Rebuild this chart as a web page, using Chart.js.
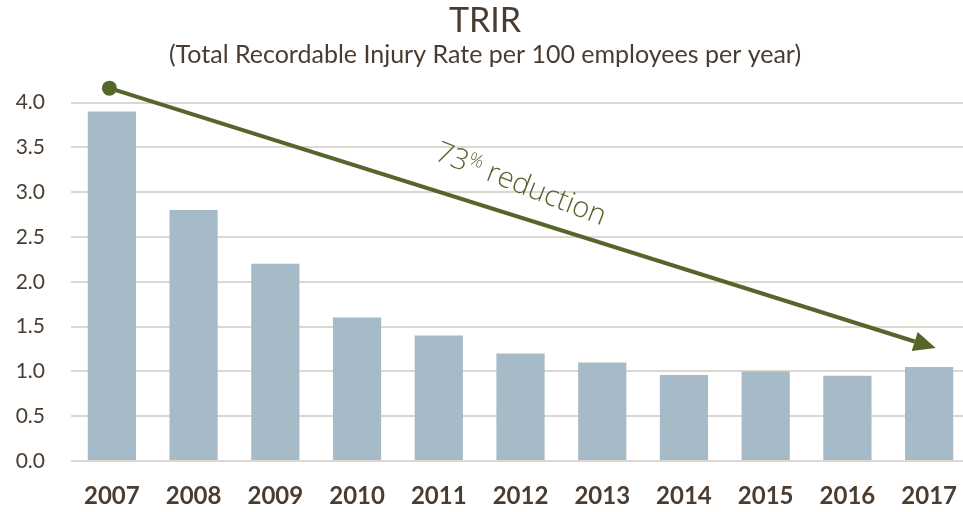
<!DOCTYPE html>
<html>
<head>
<meta charset="utf-8">
<script src="https://cdn.jsdelivr.net/npm/chart.js@4"></script>
<style>
html,body{margin:0;padding:0;background:#fff;overflow:hidden}
#wrap{width:970px;height:512px;position:relative}
</style>
</head>
<body>
<div id="wrap"><canvas id="c"></canvas></div>
<script>
// TRIR chart
const years = ["2007","2008","2009","2010","2011","2012","2013","2014","2015","2016","2017"];
const trir = [3.9, 2.8, 2.2, 1.6, 1.4, 1.2, 1.1, 0.96, 1.0, 0.95, 1.05];
const yTicks = [0, 0.5, 1, 1.5, 2, 2.5, 3, 3.5, 4];
// trend arrow, in data units: [category index, value]
const trendStart = [-0.03, 4.16];
const trendEnd = [10.08, 1.26];
const trendLabel = ["73", "%", " reduction"];

const TXT = "#4a3c30", GRID = "#dcd7d2", BAR = "#a6bbc7", OLIVE = "#56652a";

const arrowPlugin = {
  id: "arrow",
  afterDatasetsDraw(chart){
    const {ctx, scales:{x, y}} = chart;
    const step = x.getPixelForValue(1) - x.getPixelForValue(0);
    const px = v => x.getPixelForValue(0) + v*step;
    const x1 = px(trendStart[0]), y1 = y.getPixelForValue(trendStart[1]);
    const x2 = px(trendEnd[0]), y2 = y.getPixelForValue(trendEnd[1]);
    const ang = Math.atan2(y2-y1, x2-x1);
    const head = 22, hw = 10;
    ctx.save();
    ctx.strokeStyle = OLIVE; ctx.fillStyle = OLIVE; ctx.lineWidth = 4;
    ctx.beginPath();
    ctx.moveTo(x1, y1);
    ctx.lineTo(x2 - Math.cos(ang)*head, y2 - Math.sin(ang)*head);
    ctx.stroke();
    ctx.beginPath();
    ctx.arc(x1, y1, 7.5, 0, Math.PI*2); ctx.fill();
    ctx.beginPath();
    ctx.moveTo(x2, y2);
    ctx.lineTo(x2 - Math.cos(ang)*head - Math.sin(ang)*hw, y2 - Math.sin(ang)*head + Math.cos(ang)*hw);
    ctx.lineTo(x2 - Math.cos(ang)*head + Math.sin(ang)*hw, y2 - Math.sin(ang)*head - Math.cos(ang)*hw);
    ctx.closePath(); ctx.fill();
    // label along the arrow
    const mx = x1 + (x2-x1)*0.5, my = y1 + (y2-y1)*0.5;
    ctx.translate(mx, my);
    ctx.rotate(ang + 0.07);
    ctx.translate(-14, -22);
    ctx.textBaseline = "alphabetic";
    const big = "300 29px 'Open Sans'", small = "300 18px 'Open Sans'";
    ctx.font = big;
    const w0 = ctx.measureText(trendLabel[0]).width;
    ctx.font = small;
    const w1 = ctx.measureText(trendLabel[1]).width;
    ctx.font = big;
    const w2 = ctx.measureText(trendLabel[2]).width;
    let sx = -(w0+w1+w2)/2;
    ctx.fillText(trendLabel[0], sx, 0); sx += w0;
    ctx.font = small;
    ctx.fillText(trendLabel[1], sx, -9); sx += w1;
    ctx.font = big;
    ctx.fillText(trendLabel[2], sx, 0);
    ctx.restore();
  }
};

new Chart(document.getElementById("c"), {
  type: "bar",
  data: { labels: years, datasets: [{ data: trir, backgroundColor: BAR, barPercentage: 0.59, categoryPercentage: 1 }] },
  options: {
    responsive: true, maintainAspectRatio: false, animation: false,
    layout: { padding: { top: 0, right: 0, bottom: 0, left: 0 } },
    plugins: {
      legend: { display: false }, tooltip: { enabled: false },
      title: { display: true, text: "TRIR", color: TXT, font: { family: "Lato", size: 34, weight: "normal", lineHeight: 1.0 }, padding: { top: 4, bottom: 3 } },
      subtitle: { display: true, text: "(Total Recordable Injury Rate per 100 employees per year)", color: TXT, font: { family: "Lato", size: 25, weight: "normal", lineHeight: 1.1 }, padding: { top: 0, bottom: 34 } }
    },
    scales: {
      x: {
        grid: { display: false }, border: { display: false },
        ticks: { color: TXT, font: { family: "Lato", size: 24, weight: "bold" }, padding: 13, maxRotation: 0 },
        afterFit: s => { s.height = 51; }
      },
      y: {
        min: 0, max: 4,
        afterBuildTicks: s => { s.ticks = yTicks.map(v => ({ value: v })); },
        grid: { color: GRID, lineWidth: 2, drawTicks: false }, border: { display: false },
        ticks: { color: TXT, font: { family: "Lato", size: 21 }, padding: 26, callback: v => v.toFixed(1) },
        afterFit: s => { s.width = 71; }
      }
    }
  },
  plugins: [arrowPlugin]
});
</script>
</body>
</html>
